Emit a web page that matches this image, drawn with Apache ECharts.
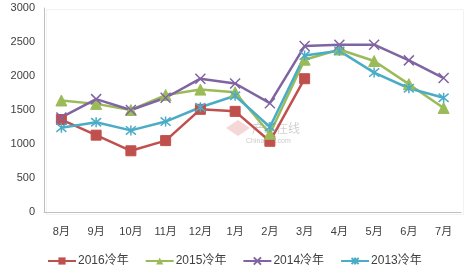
<!DOCTYPE html>
<html>
<head>
<meta charset="utf-8">
<script src="https://cdn.jsdelivr.net/npm/echarts@6/dist/echarts.min.js"></script>
<style>
  html, body { margin: 0; padding: 0; background: #fff; }
  #chart { width: 466px; height: 272px; }
</style>
</head>
<body>
<div id="chart"></div>
<script>
const months = ['8月', '9月', '10月', '11月', '12月', '1月', '2月', '3月', '4月', '5月', '6月', '7月'];
const y2016 = [1360, 1130, 900, 1050, 1510, 1480, 1040, 1960, null, null, null, null];
const y2015 = [1640, 1590, 1500, 1720, 1800, 1760, 1150, 2240, 2390, 2220, 1880, 1530];
const y2014 = [1390, 1660, 1500, 1680, 1960, 1890, 1600, 2440, 2460, 2460, 2230, 1970];
const y2013 = [1240, 1320, 1200, 1330, 1540, 1710, 1250, 2300, 2370, 2050, 1820, 1680];

const xMark = 'path://M0,0L10,10M0,10L10,0';
const starMark = 'path://M0,0L10,10M0,10L10,0M5,-1L5,11';

function lineSeries(name, data, color, symbol, size, stroked) {
  return {
    name: name,
    type: 'line',
    data: data,
    symbol: symbol,
    symbolSize: size,
    lineStyle: { color: color, width: 2.5 },
    itemStyle: stroked
      ? { color: 'rgba(0,0,0,0)', borderColor: color, borderWidth: 1.5 }
      : { color: color, borderColor: color },
    emphasis: { disabled: true }
  };
}

const chart = echarts.init(document.getElementById('chart'), null, { renderer: 'canvas' });
chart.setOption({
  animation: false,
  textStyle: { fontFamily: '"Liberation Sans", "Noto Sans CJK SC", sans-serif' },
  grid: { left: 44, right: 5, top: 8, bottom: 60 },
  color: ['#C0504D', '#9BBB59', '#8064A2', '#4BACC6'],
  legend: {
    top: 250,
    left: 42,
    itemWidth: 28,
    itemHeight: 9,
    itemGap: 16,
    textStyle: { fontSize: 12, color: '#404040', padding: [0, 0, 0, -3] },
    data: ['2016冷年', '2015冷年', '2014冷年', '2013冷年']
  },
  xAxis: {
    type: 'category',
    data: months,
    boundaryGap: true,
    axisLine: { lineStyle: { color: '#BFBFBF', width: 1 } },
    axisTick: { show: false },
    axisLabel: { fontSize: 11, color: '#404040', margin: 14 }
  },
  yAxis: {
    type: 'value',
    min: 0,
    max: 3000,
    interval: 500,
    axisLine: { show: true, lineStyle: { color: '#BFBFBF', width: 1 } },
    axisTick: { show: false },
    splitLine: { show: false },
    axisLabel: { fontSize: 11, color: '#404040', margin: 9, formatter: function (v) { return String(v); } }
  },
  graphic: [
    { type: 'rect', left: 44, top: 7, shape: { width: 417, height: 205 }, style: { fill: 'none', stroke: '#F2F2F2', lineWidth: 1 }, silent: true, z: -1 },
    { type: 'text', left: 252, top: 122, style: { text: '产业在线', fontSize: 12, fill: 'rgba(150,150,150,0.45)', fontFamily: '"Noto Sans CJK SC"' }, silent: true },
    { type: 'text', left: 246, top: 138, style: { text: 'ChinaIOL.com', fontSize: 7, fill: 'rgba(150,150,150,0.5)' }, silent: true },
    { type: 'polygon', shape: { points: [[238, 120], [250, 128], [238, 136], [226, 128]] }, style: { fill: 'rgba(230,140,140,0.35)' }, silent: true }
  ],
  series: [
    lineSeries('2016冷年', y2016, '#C0504D', 'rect', 10, false),
    lineSeries('2015冷年', y2015, '#9BBB59', 'triangle', 11, false),
    lineSeries('2014冷年', y2014, '#8064A2', xMark, 10, true),
    lineSeries('2013冷年', y2013, '#4BACC6', starMark, 10, true)
  ]
});
</script>
</body>
</html>
